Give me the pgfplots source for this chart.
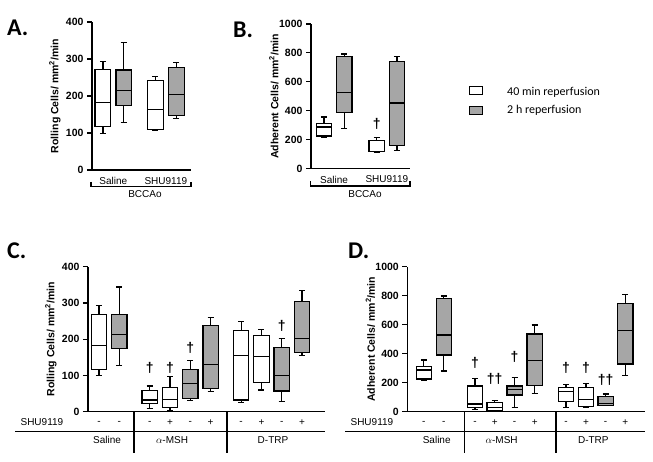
\documentclass[border=0pt]{standalone}
\usepackage{fontspec}
\setmainfont{Liberation Sans}
\newfontfamily\calibri{Carlito}
\usepackage{pgfplots}
\pgfplotsset{compat=1.18}
\usepgfplotslibrary{statistics}
\definecolor{boxgray}{RGB}{166,166,166}

\pgfplotsset{
  panel/.style={
    scale only axis, anchor=south west, clip=false,
    axis x line=bottom, axis y line=left,
    axis line style={-, line width=1.2pt, black},
    tick align=outside, major tick length=5pt,
    ytick style={line width=1.2pt, black},
    xtick style={draw=none},
    ymin=0,
    /pgf/number format/assume math mode=true,
    /pgf/number format/1000 sep={},
    yticklabel style={font=\fontsize{10.5}{12}\selectfont\bfseries},
    xticklabel style={font=\fontsize{10}{12}\selectfont, anchor=center, yshift=-6pt},
    every axis y label/.style={at={([xshift=-37pt]axis description cs:0,0.5)}, rotate=90,
      anchor=center, font=\fontsize{10.5}{12}\selectfont\bfseries},
    boxplot/draw direction=y,
    boxplot/box extend=0.76, boxplot/whisker extend=0.3,
  },
  wbox/.style={draw=black, fill=white, line width=1.2pt},
  gbox/.style={draw=black, fill=boxgray, line width=1.2pt},
  bp/.style n args={6}{boxplot prepared={draw position=#1, lower whisker=#2,
    lower quartile=#3, median=#4, upper quartile=#5, upper whisker=#6}},
  dag/.style={only marks, mark=none, nodes near coords, point meta=explicit symbolic,
    nodes near coords style={anchor=center, font=\fontsize{14}{14}\selectfont\bfseries}},
}

\begin{document}
\begin{tikzpicture}[x=1pt,y=1pt]
\path[use as bounding box] (0,0) rectangle (653,462);

% A: rolling, BCCAo
\begin{axis}[panel, at={(92pt,292pt)}, width=99pt, height=148pt,
  xmin=-0.52, xmax=4.2, ymax=400, ytick={0,100,200,300,400},
  xtick={0.5,3}, xticklabels={Saline,SHU9119},
  ylabel={Rolling Cells/ mm\textsuperscript{2}/min}]
\addplot[wbox, bp={0}{99}{117}{182}{271}{294}] coordinates {};
\addplot[gbox, bp={1}{128}{174}{214}{270}{344}] coordinates {};
\addplot[wbox, bp={2.5}{108}{110}{164}{241}{252}] coordinates {};
\addplot[gbox, bp={3.5}{139}{147}{204}{277}{290}] coordinates {};
\end{axis}

% B: adherent, BCCAo
\begin{axis}[panel, at={(311pt,293.5pt)}, width=99pt, height=144.5pt,
  xmin=-0.64, xmax=4.24, ymax=1000, ytick={0,200,400,600,800,1000},
  xtick={0.5,3.1}, xticklabels={Saline,SHU9119},
  ylabel={Adherent Cells/ mm\textsuperscript{2}/min}]
\addplot[wbox, bp={0}{218}{225}{287}{310}{356}] coordinates {};
\addplot[gbox, bp={1}{276}{386}{524}{777}{793}] coordinates {};
\addplot[wbox, bp={2.6}{113}{115}{116}{191}{214}] coordinates {};
\addplot[gbox, bp={3.6}{122}{161}{453}{742}{777}] coordinates {};
\addplot[dag] coordinates {(2.6,310) [†]};
\end{axis}

% C: rolling, treatments
\begin{axis}[panel, at={(88pt,50.3pt)}, width=237pt, height=145pt,
  xmin=-0.54, xmax=11.13, ymax=400, ytick={0,100,200,300,400},
  xtick={0,1,2.5,3.5,4.5,5.5,7,8,9,10},
  xticklabels={-,-,-,+,-,+,-,+,-,+},
  ylabel={Rolling Cells/ mm\textsuperscript{2}/min}]
\addplot[wbox, bp={0}{99}{117}{182}{269}{292}] coordinates {};
\addplot[gbox, bp={1}{128}{175}{212}{269}{344}] coordinates {};
\addplot[wbox, bp={2.5}{9}{23}{32}{58}{71}] coordinates {};
\addplot[wbox, bp={3.5}{3}{11}{34}{67}{96}] coordinates {};
\addplot[gbox, bp={4.5}{30}{37}{78}{117}{141}] coordinates {};
\addplot[gbox, bp={5.5}{55}{64}{131}{237}{259}] coordinates {};
\addplot[wbox, bp={7}{26}{32}{154}{223}{249}] coordinates {};
\addplot[wbox, bp={8}{60}{80}{152}{210}{226}] coordinates {};
\addplot[gbox, bp={9}{29}{57}{100}{177}{203}] coordinates {};
\addplot[gbox, bp={10}{156}{163}{203}{304}{335}] coordinates {};
\addplot[dag] coordinates {(2.5,121) [†] (3.5,121) [†] (4.5,175) [†] (9,238) [†]};
\end{axis}

% D: adherent, treatments
\begin{axis}[panel, at={(407.3pt,50.3pt)}, width=237.7pt, height=145pt,
  xmin=-0.82, xmax=11.01, ymax=1000, ytick={0,200,400,600,800,1000},
  xtick={0,1,2.55,3.53,4.52,5.52,7.08,8.07,9.05,10.03},
  xticklabels={-,-,-,+,-,+,-,+,-,+},
  ylabel={Adherent Cells/ mm\textsuperscript{2}/min}]
\addplot[wbox, bp={0}{218}{225}{287}{310}{356}] coordinates {};
\addplot[gbox, bp={1}{280}{391}{529}{782}{798}] coordinates {};
\addplot[wbox, bp={2.55}{16}{28}{53}{177}{230}] coordinates {};
\addplot[wbox, bp={3.53}{7}{11}{30}{62}{76}] coordinates {};
\addplot[gbox, bp={4.52}{30}{115}{154}{177}{234}] coordinates {};
\addplot[gbox, bp={5.52}{126}{179}{352}{536}{598}] coordinates {};
\addplot[wbox, bp={7.08}{30}{69}{138}{166}{189}] coordinates {};
\addplot[wbox, bp={8.07}{30}{34}{85}{168}{195}] coordinates {};
\addplot[gbox, bp={9.05}{44}{45}{57}{103}{122}] coordinates {};
\addplot[gbox, bp={10.03}{251}{329}{559}{747}{811}] coordinates {};
\addplot[dag] coordinates {(2.55,338) [†] (3.53,225) [††] (4.52,379) [†]
  (7.08,303) [†] (8.07,303) [†] (9.05,218) [††]};
\end{axis}

% group brackets and labels
\begin{scope}[line width=1.1pt, font=\fontsize{10}{12}\selectfont]
\draw (91,280) -- (91,275.5) -- (191,275.5) -- (191,280);
\node at (145,267.5) {BCCAo};
\draw (310.7,280.5) -- (310.7,276) -- (410,276) -- (410,280.5);
\node at (365,267.5) {BCCAo};

\node[anchor=west] at (16.7,40.3) {SHU9119};
\draw (15,30.3) -- (325,30.3);
\draw (134,50.3) -- (134,9);
\draw (227,50.3) -- (227,9);
\node at (107,22) {Saline};
\node at (172,22) {$\alpha$-MSH};
\node at (273,22) {D-TRP};

\node[anchor=west] at (346.7,40.3) {SHU9119};
\draw (345,30.3) -- (645,30.3);
\draw (464.3,50.3) -- (464.3,9);
\draw (556,50.3) -- (556,9);
\node at (436.7,22) {Saline};
\node at (501.7,22) {$\alpha$-MSH};
\node at (593.3,22) {D-TRP};
\end{scope}

% legend
\draw[line width=1pt, fill=white] (469.3,367.7) rectangle (482.7,375.3);
\draw[line width=1pt, fill=boxgray] (469.3,347) rectangle (482.7,355.3);
\node[anchor=west, font=\calibri\fontsize{12}{14}\selectfont, inner sep=0pt] at (507,369.3) {40 min reperfusion};
\node[anchor=west, font=\calibri\fontsize{12}{14}\selectfont, inner sep=0pt] at (507,352) {2 h reperfusion};

% panel letters
\begin{scope}[font=\calibri\bfseries\fontsize{24}{26}\selectfont]
\node[anchor=west, inner sep=0pt] at (7,434) {A.};
\node[anchor=west, inner sep=0pt] at (233,432) {B.};
\node[anchor=west, inner sep=0pt] at (7,211) {C.};
\node[anchor=west, inner sep=0pt] at (348,211) {D.};
\end{scope}
\end{tikzpicture}
\end{document}
